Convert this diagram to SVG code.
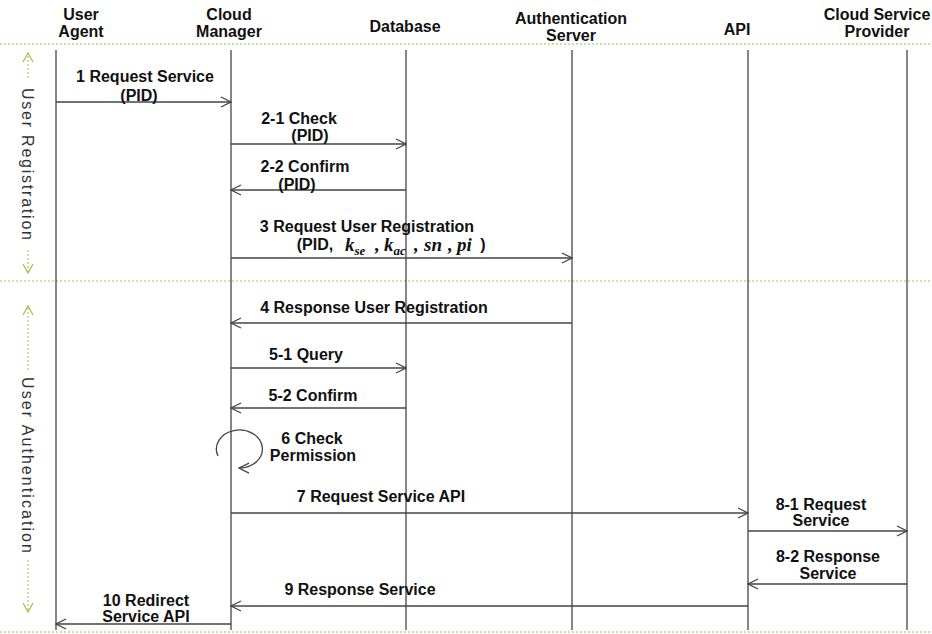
<svg xmlns="http://www.w3.org/2000/svg" width="932" height="634" viewBox="0 0 932 634">
<defs>
<style>
.t{font-family:"Liberation Sans",Arial,sans-serif;font-weight:bold;font-size:16px;fill:#111;text-anchor:middle}
.s{font-family:"Liberation Sans",Arial,sans-serif;font-size:16px;fill:#333}
.m{font-family:"Liberation Serif","Times New Roman",serif;font-style:italic;font-weight:bold;font-size:19px;fill:#111}
.sub{font-size:13px}
.life{stroke:#444;stroke-width:1.3;fill:none}
.msg{stroke:#444;stroke-width:1.3;fill:none;marker-end:url(#ah)}
.sep{stroke:#9ac24a;stroke-width:1.2;stroke-dasharray:2 2;fill:none}
.garr{stroke:#9ac24a;stroke-width:1;stroke-dasharray:2 2;fill:none;marker-end:url(#ga)}
</style>
<marker id="ah" viewBox="0 0 12 12" refX="11" refY="6" markerWidth="12" markerHeight="12" markerUnits="userSpaceOnUse" orient="auto">
<path d="M1,1 L11,6 L1,11" fill="none" stroke="#444" stroke-width="1.3"/>
</marker>
<marker id="ga" viewBox="0 0 12 12" refX="11" refY="6" markerWidth="12" markerHeight="12" markerUnits="userSpaceOnUse" orient="auto">
<path d="M2,1 L11,6 L2,11" fill="none" stroke="#9ac24a" stroke-width="1.2"/>
</marker>
</defs>
<rect width="932" height="634" fill="#fff"/>
<g id="separators">
<line class="sep" x1="0" y1="44" x2="932" y2="44"/>
<line class="sep" x1="0" y1="281" x2="932" y2="281"/>
<line class="sep" x1="0" y1="632" x2="932" y2="632"/>
</g>
<g id="phase-registration">
<text class="s" transform="translate(22,88) rotate(90)" textLength="152" lengthAdjust="spacing">User Registration</text>
<line class="garr" x1="28" y1="78" x2="28" y2="53"/>
<line class="garr" x1="28" y1="250" x2="28" y2="273"/>
</g>
<g id="phase-authentication">
<text class="s" transform="translate(22,377) rotate(90)" textLength="176" lengthAdjust="spacing">User Authentication</text>
<line class="garr" x1="28" y1="370" x2="28" y2="306"/>
<line class="garr" x1="28" y1="560" x2="28" y2="612"/>
</g>
<g id="user-agent">
<text class="t" x="81" y="20">User</text>
<text class="t" x="81" y="37">Agent</text>
<line class="life" x1="56" y1="50" x2="56" y2="630"/>
</g>
<g id="cloud-manager">
<text class="t" x="229" y="20">Cloud</text>
<text class="t" x="229" y="37">Manager</text>
<line class="life" x1="231" y1="50" x2="231" y2="630"/>
</g>
<g id="database">
<text class="t" x="405" y="32">Database</text>
<line class="life" x1="406" y1="50" x2="406" y2="630"/>
</g>
<g id="authentication-server">
<text class="t" x="571" y="24">Authentication</text>
<text class="t" x="571" y="41">Server</text>
<line class="life" x1="572" y1="50" x2="572" y2="630"/>
</g>
<g id="api">
<text class="t" x="737" y="35">API</text>
<line class="life" x1="748" y1="50" x2="748" y2="630"/>
</g>
<g id="cloud-service-provider">
<text class="t" x="877" y="20">Cloud Service</text>
<text class="t" x="877" y="37">Provider</text>
<line class="life" x1="907" y1="50" x2="907" y2="630"/>
</g>
<g id="connectors">
<line class="msg" x1="56" y1="102" x2="231" y2="102"/>
<line class="msg" x1="231" y1="144" x2="406" y2="144"/>
<line class="msg" x1="406" y1="190" x2="231" y2="190"/>
<line class="msg" x1="231" y1="258" x2="572" y2="258"/>
<line class="msg" x1="572" y1="323" x2="231" y2="323"/>
<line class="msg" x1="231" y1="368" x2="406" y2="368"/>
<line class="msg" x1="406" y1="408" x2="231" y2="408"/>
<path class="msg" d="M218,456 A23,19 0 1 1 239,468"/>
<line class="msg" x1="231" y1="513" x2="748" y2="513"/>
<line class="msg" x1="748" y1="531" x2="907" y2="531"/>
<line class="msg" x1="907" y1="584" x2="748" y2="584"/>
<line class="msg" x1="748" y1="606" x2="231" y2="606"/>
<line class="msg" x1="231" y1="624" x2="56" y2="624"/>
</g>
<g id="labels">
<text class="t" x="145" y="82">1 Request Service</text>
<text class="t" x="139" y="101">(PID)</text>
<text class="t" x="299" y="124">2-1 Check</text>
<text class="t" x="310" y="141">(PID)</text>
<text class="t" x="305" y="172">2-2 Confirm</text>
<text class="t" x="297" y="190">(PID)</text>
<text class="t" x="367" y="232">3 Request User Registration</text>
<text class="t" x="315" y="250">(PID,</text>
<text class="m" x="345" y="251">k<tspan class="sub" dy="4">se</tspan></text>
<text class="m" x="375" y="251">,</text>
<text class="m" x="384" y="251">k<tspan class="sub" dy="4">ac</tspan></text>
<text class="m" x="414" y="251">,</text>
<text class="m" x="424" y="251">sn</text>
<text class="m" x="448" y="251">,</text>
<text class="m" x="457" y="251">pi</text>
<text class="t" x="483" y="250">)</text>
<text class="t" x="374" y="313">4 Response User Registration</text>
<text class="t" x="306" y="360">5-1 Query</text>
<text class="t" x="313" y="401">5-2 Confirm</text>
<text class="t" x="312" y="444">6 Check</text>
<text class="t" x="313" y="461">Permission</text>
<text class="t" x="381" y="502">7 Request Service API</text>
<text class="t" x="821" y="510">8-1 Request</text>
<text class="t" x="821" y="526">Service</text>
<text class="t" x="828" y="562">8-2 Response</text>
<text class="t" x="828" y="579">Service</text>
<text class="t" x="360" y="595">9 Response Service</text>
<text class="t" x="146" y="606">10 Redirect</text>
<text class="t" x="146" y="622">Service API</text>
</g>
</svg>
